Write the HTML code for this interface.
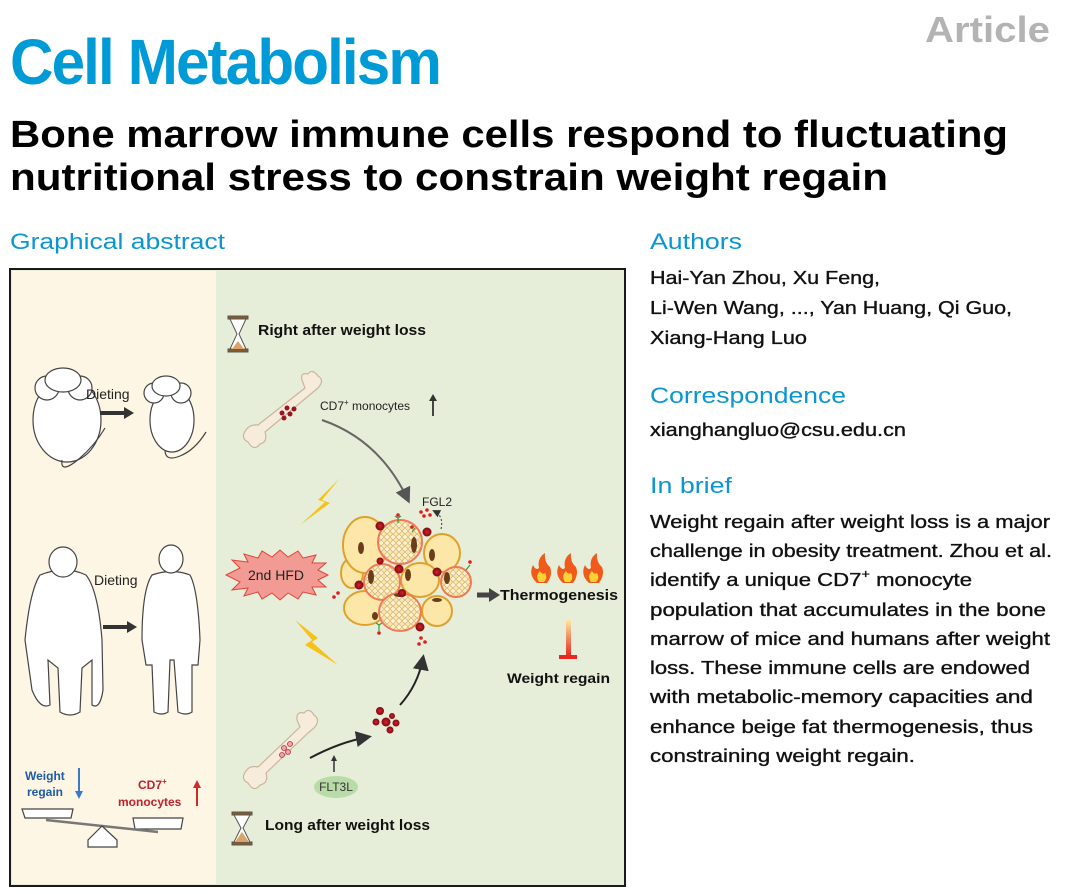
<!DOCTYPE html>
<html><head><meta charset="utf-8"><style>
html,body{margin:0;padding:0;background:#fff;}
svg{display:block;}
text{font-family:"Liberation Sans",Arial,sans-serif;}
</style></head><body>
<svg width="1080" height="894" viewBox="0 0 1080 894" xmlns="http://www.w3.org/2000/svg">
<defs>
<linearGradient id="inh" x1="0" y1="0" x2="0" y2="1"><stop offset="0" stop-color="#fde9a0"/><stop offset="1" stop-color="#e8281e"/></linearGradient>
<radialGradient id="mono"><stop offset="0" stop-color="#d8202a"/><stop offset="1" stop-color="#7a0a10"/></radialGradient>
<pattern id="lip" width="6" height="6" patternUnits="userSpaceOnUse"><rect width="6" height="6" fill="#fbe7b0"/><circle cx="3" cy="3" r="2.3" fill="#fdf3d2" stroke="#c9a25a" stroke-width="0.6"/></pattern>
<marker id="ah" markerWidth="8" markerHeight="8" refX="6" refY="4" orient="auto"><path d="M0,0 L8,4 L0,8 Z" fill="#333"/></marker>
<marker id="ahg" markerWidth="8" markerHeight="8" refX="6" refY="4" orient="auto"><path d="M0,0 L8,4 L0,8 Z" fill="#555"/></marker>
</defs>

<!-- header -->
<text x="10" y="84" font-size="64" font-weight="bold" fill="#009ad6" letter-spacing="-2" textLength="430" lengthAdjust="spacingAndGlyphs">Cell Metabolism</text>
<text x="925" y="42" font-size="36" font-weight="bold" fill="#b3b3b3" textLength="125" lengthAdjust="spacingAndGlyphs">Article</text>
<text x="10" y="147" font-size="38" font-weight="bold" fill="#000" textLength="998" lengthAdjust="spacingAndGlyphs">Bone marrow immune cells respond to fluctuating</text>
<text x="10" y="190" font-size="38" font-weight="bold" fill="#000" textLength="878" lengthAdjust="spacingAndGlyphs">nutritional stress to constrain weight regain</text>
<text x="10" y="249" font-size="22" fill="#0a96d2" textLength="215" lengthAdjust="spacingAndGlyphs">Graphical abstract</text>

<!-- right column -->
<text x="650" y="249" font-size="22" fill="#0a96d2" textLength="92" lengthAdjust="spacingAndGlyphs">Authors</text>
<g font-size="18" fill="#111" stroke="#111" stroke-width="0.35">
<text x="650" y="284" textLength="230" lengthAdjust="spacingAndGlyphs">Hai-Yan Zhou, Xu Feng,</text>
<text x="650" y="314" textLength="362" lengthAdjust="spacingAndGlyphs">Li-Wen Wang, ..., Yan Huang, Qi Guo,</text>
<text x="650" y="344" textLength="157" lengthAdjust="spacingAndGlyphs">Xiang-Hang Luo</text>
<text x="650" y="436" textLength="256" lengthAdjust="spacingAndGlyphs">xianghangluo@csu.edu.cn</text>
<text x="650" y="528" textLength="400" lengthAdjust="spacingAndGlyphs">Weight regain after weight loss is a major</text>
<text x="650" y="557" textLength="402" lengthAdjust="spacingAndGlyphs">challenge in obesity treatment. Zhou et al.</text>
<text x="650" y="586" textLength="322" lengthAdjust="spacingAndGlyphs">identify a unique CD7<tspan font-size="12" dy="-8">+</tspan><tspan dy="8"> monocyte</tspan></text>
<text x="650" y="616" textLength="396" lengthAdjust="spacingAndGlyphs">population that accumulates in the bone</text>
<text x="650" y="645" textLength="400" lengthAdjust="spacingAndGlyphs">marrow of mice and humans after weight</text>
<text x="650" y="674" textLength="380" lengthAdjust="spacingAndGlyphs">loss. These immune cells are endowed</text>
<text x="650" y="703" textLength="383" lengthAdjust="spacingAndGlyphs">with metabolic-memory capacities and</text>
<text x="650" y="733" textLength="383" lengthAdjust="spacingAndGlyphs">enhance beige fat thermogenesis, thus</text>
<text x="650" y="762" textLength="265" lengthAdjust="spacingAndGlyphs">constraining weight regain.</text>
</g>
<text x="650" y="403" font-size="22" fill="#0a96d2" textLength="196" lengthAdjust="spacingAndGlyphs">Correspondence</text>
<text x="650" y="493" font-size="22" fill="#0a96d2" textLength="82" lengthAdjust="spacingAndGlyphs">In brief</text>

<!-- diagram frame -->
<rect x="10" y="269" width="615" height="617" fill="#e6eed9" stroke="#1a1a1a" stroke-width="2"/>
<rect x="12" y="271" width="204" height="613" fill="#fdf6e4"/>

<!-- left: mice -->
<g fill="none" stroke="#444" stroke-width="1.2">
<ellipse cx="67" cy="420" rx="34" ry="42" fill="#fff"/>
<circle cx="47" cy="388" r="12" fill="#fff"/><circle cx="80" cy="388" r="12" fill="#fff"/>
<ellipse cx="63" cy="380" rx="18" ry="12" fill="#fff"/>
<path d="M62,460 Q60,475 80,458 Q95,445 105,428"/>
<ellipse cx="172" cy="420" rx="22" ry="32" fill="#fff"/>
<circle cx="154" cy="393" r="10" fill="#fff"/><circle cx="181" cy="393" r="10" fill="#fff"/>
<ellipse cx="166" cy="386" rx="14" ry="10" fill="#fff"/>
<path d="M165,450 Q165,462 180,456 Q195,450 206,432"/>
</g>
<text x="86" y="399" font-size="14" fill="#222">Dieting</text>
<path d="M100,413 L125,413" stroke="#333" stroke-width="4"/><path d="M124,407 L134,413 L124,419 Z" fill="#333"/>

<!-- left: humans -->
<g fill="#fff" stroke="#444" stroke-width="1.2">
<path d="M40,575 Q30,590 25,640 L32,690 Q40,710 50,705 L48,660 L58,668 L60,712 Q70,718 80,712 L82,668 L92,660 L92,705 Q100,710 103,690 L102,640 Q98,590 86,575 Q65,565 40,575 Z"/>
<ellipse cx="63" cy="562" rx="14" ry="15"/>
<path d="M152,575 Q142,590 142,640 L146,665 L152,665 L154,712 Q162,716 168,712 L170,660 L174,660 L178,712 Q186,716 192,712 L192,665 L198,665 L200,640 Q198,590 190,575 Q172,568 152,575 Z"/>
<ellipse cx="171" cy="559" rx="12" ry="14"/>
</g>
<text x="94" y="585" font-size="14" fill="#222">Dieting</text>
<path d="M103,627 L128,627" stroke="#333" stroke-width="4"/><path d="M127,621 L137,627 L127,633 Z" fill="#333"/>

<!-- left: balance -->
<text x="25" y="780" font-size="12" font-weight="bold" fill="#1f5aa6">Weight</text>
<text x="27" y="796" font-size="12" font-weight="bold" fill="#1f5aa6">regain</text>
<path d="M79,768 L79,793" stroke="#3a78c9" stroke-width="2"/><path d="M75,791 L79,799 L83,791 Z" fill="#3a78c9"/>
<text x="138" y="789" font-size="12" font-weight="bold" fill="#c0212a">CD7<tspan font-size="8" dy="-5">+</tspan></text>
<text x="118" y="806" font-size="12" font-weight="bold" fill="#c0212a">monocytes</text>
<path d="M197,806 L197,786" stroke="#d02a2a" stroke-width="2"/><path d="M193,788 L197,780 L201,788 Z" fill="#d02a2a"/>
<g fill="#fff" stroke="#444" stroke-width="1.2">
<path d="M22,809 L73,809 L71,818 L25,818 Z"/>
<path d="M133,818 L183,818 L181,829 L135,829 Z"/>
<path d="M46,820 L158,832" stroke-width="2.5" stroke="#777"/>
<path d="M102,826 L88,840 L88,847 L117,847 L117,840 Z"/>
</g>

<!-- hourglasses -->
<g stroke="#555" stroke-width="1">
<rect x="228" y="316" width="20" height="3" fill="#8a5a2b"/><rect x="228" y="349" width="20" height="3" fill="#8a5a2b"/>
<path d="M230,319 L246,319 L239,334 L246,349 L230,349 L237,334 Z" fill="#fff"/>
<path d="M232,349 L244,349 L238,341 Z" fill="#d9a36a" stroke="none"/>
<rect x="232" y="812" width="20" height="3" fill="#8a5a2b"/><rect x="232" y="842" width="20" height="3" fill="#8a5a2b"/>
<path d="M234,815 L250,815 L243,828 L250,842 L234,842 L241,828 Z" fill="#fff"/>
<path d="M235,842 L249,842 L242,832 Z" fill="#d9a36a" stroke="none"/>
</g>
<text x="258" y="335" font-size="15" font-weight="bold" fill="#111" textLength="168" lengthAdjust="spacingAndGlyphs">Right after weight loss</text>
<text x="265" y="830" font-size="15" font-weight="bold" fill="#111" textLength="165" lengthAdjust="spacingAndGlyphs">Long after weight loss</text>

<!-- bones -->
<g fill="#f7ecdb" stroke="#c9b59a" stroke-width="1.2">
<path d="M258,425 L305,388 L302,380 Q300,372 308,374 Q312,368 318,376 Q325,380 318,388 L312,393 L265,432 Q268,442 260,444 Q254,452 248,442 Q240,438 246,430 Q250,424 258,425 Z"/>
<path d="M258,767 L300,727 L297,720 Q296,711 304,713 Q309,707 314,715 Q321,720 314,728 L308,733 L266,773 Q269,783 260,785 Q254,793 248,783 Q240,779 246,771 Q250,765 258,767 Z"/>
</g>
<g fill="#9a1520"><circle cx="282" cy="413" r="2.5"/><circle cx="287" cy="408" r="2.5"/><circle cx="290" cy="414" r="2.5"/><circle cx="284" cy="418" r="2.5"/><circle cx="294" cy="409" r="2.5"/></g>
<g fill="#f2a3a8" stroke="#b0303a" stroke-width="0.8"><circle cx="284" cy="748" r="2.5"/><circle cx="290" cy="744" r="2.5"/><circle cx="288" cy="752" r="2.5"/><circle cx="282" cy="755" r="2.5"/></g>
<text x="320" y="410" font-size="12" fill="#222">CD7<tspan font-size="8" dy="-5">+</tspan><tspan dy="5"> monocytes</tspan></text>
<path d="M433,416 L433,400" stroke="#333" stroke-width="1.8"/><path d="M429,401 L433,394 L437,401 Z" fill="#333"/>

<!-- arrows -->
<path d="M322,420 Q380,440 408,500" fill="none" stroke="#666" stroke-width="2" marker-end="url(#ahg)"/>
<text x="422" y="506" font-size="12" fill="#222">FGL2</text>
<path d="M441,529 Q444,516 434,511" fill="none" stroke="#333" stroke-width="1" stroke-dasharray="2,2" marker-end="url(#ah)"/>
<g fill="#e01c1c"><circle cx="421" cy="512" r="1.8"/><circle cx="427" cy="510" r="1.8"/><circle cx="424" cy="516" r="1.8"/><circle cx="430" cy="515" r="1.8"/></g>
<path d="M310,758 Q340,742 368,737" fill="none" stroke="#222" stroke-width="2" marker-end="url(#ah)"/>
<path d="M334,772 L334,760" stroke="#333" stroke-width="1.5"/><path d="M331,761 L334,755 L337,761 Z" fill="#333"/>
<ellipse cx="336" cy="787" rx="22" ry="11" fill="#b9dba8"/>
<text x="336" y="791" font-size="12" fill="#333" text-anchor="middle">FLT3L</text>
<path d="M400,705 Q418,685 423,658" fill="none" stroke="#222" stroke-width="2" marker-end="url(#ah)"/>
<g fill="url(#mono)"><circle cx="380" cy="711" r="4"/><circle cx="376" cy="722" r="3.5"/><circle cx="386" cy="722" r="4.5"/><circle cx="392" cy="716" r="3"/><circle cx="396" cy="723" r="3.5"/><circle cx="390" cy="730" r="3.5"/></g>

<!-- lightning -->
<g fill="#f6c21a">
<path d="M340,478 L318,500 L325,502 L300,525 L330,503 L322,500 Z"/>
<path d="M295,620 L318,638 L312,642 L338,665 L305,645 L312,640 Z"/>
</g>

<!-- 2nd HFD star -->
<path d="M226,575 L240,568 L232,560 L248,562 L244,554 L258,558 L262,551 L272,557 L280,550 L288,557 L298,551 L303,558 L316,555 L312,563 L326,563 L318,570 L328,575 L318,580 L326,587 L312,587 L316,595 L303,592 L298,599 L288,593 L280,600 L272,593 L262,599 L258,592 L244,596 L248,588 L232,590 L240,582 Z" fill="#f29a94" stroke="#e0443a" stroke-width="1"/>
<text x="276" y="580" font-size="14" fill="#222" text-anchor="middle">2nd HFD</text>

<!-- adipocyte cluster -->
<g stroke-width="2">
<ellipse cx="352" cy="573" rx="11" ry="15" fill="#fde7a8" stroke="#e0a12c"/>
<ellipse cx="365" cy="545" rx="22" ry="28" fill="#fde7a8" stroke="#e0a12c"/>
<ellipse cx="442" cy="553" rx="18" ry="19" fill="#fde7a8" stroke="#e0a12c"/>
<ellipse cx="420" cy="580" rx="19" ry="17" fill="#fde7a8" stroke="#e0a12c"/>
<ellipse cx="365" cy="608" rx="21" ry="17" fill="#fde7a8" stroke="#e0a12c"/>
<ellipse cx="437" cy="611" rx="15" ry="15" fill="#fde7a8" stroke="#e0a12c"/>
<circle cx="400" cy="542" r="22" fill="url(#lip)" stroke="#f07a55"/>
<circle cx="382" cy="582" r="18" fill="url(#lip)" stroke="#f07a55"/>
<circle cx="456" cy="582" r="15" fill="url(#lip)" stroke="#f07a55"/>
<ellipse cx="400" cy="612" rx="21" ry="19" fill="url(#lip)" stroke="#f07a55"/>
</g>
<g fill="#6a3e1a">
<ellipse cx="361" cy="548" rx="3" ry="6"/><ellipse cx="414" cy="545" rx="3" ry="8"/><ellipse cx="432" cy="555" rx="3" ry="6"/>
<ellipse cx="371" cy="577" rx="3" ry="7"/><ellipse cx="408" cy="575" rx="3" ry="6"/><ellipse cx="447" cy="578" rx="3" ry="6"/>
<ellipse cx="375" cy="616" rx="3" ry="4"/><ellipse cx="400" cy="595" rx="6" ry="2"/><ellipse cx="437" cy="600" rx="5" ry="2"/>
</g>
<g fill="url(#mono)">
<circle cx="380" cy="526" r="4.5"/><circle cx="427" cy="532" r="4.5"/><circle cx="399" cy="569" r="4.5"/>
<circle cx="437" cy="572" r="4.5"/><circle cx="359" cy="585" r="4.5"/><circle cx="402" cy="593" r="4"/>
<circle cx="420" cy="627" r="4.5"/><circle cx="380" cy="561" r="3.5"/>
</g>
<g fill="#e01c1c"><circle cx="334" cy="597" r="1.8"/><circle cx="338" cy="593" r="1.8"/><circle cx="421" cy="638" r="1.8"/><circle cx="425" cy="642" r="1.8"/><circle cx="419" cy="644" r="1.8"/><circle cx="398" cy="515" r="1.8"/><circle cx="470" cy="562" r="1.8"/><circle cx="379" cy="633" r="1.8"/><circle cx="412" cy="527" r="1.8"/></g>
<g stroke="#3a9a3a" stroke-width="1.2" fill="none"><path d="M398,523 L398,518 M395,516 L398,518 L401,516"/><path d="M412,532 L415,528"/><path d="M466,570 L470,565"/><path d="M379,625 L379,631 M376,623 L379,625 L382,623"/></g>

<!-- thermogenesis -->
<path d="M477,595 L491,595" stroke="#444" stroke-width="5"/><path d="M489,588 L500,595 L489,602 Z" fill="#444"/>
<text x="500" y="600" font-size="15" font-weight="bold" fill="#111" textLength="118" lengthAdjust="spacingAndGlyphs">Thermogenesis</text>
<g>
<path d="M537,583 Q528,575 533,565 Q536,571 539,568 Q537,558 545,553 Q544,562 550,567 Q553,575 547,583 Z" fill="#f05a1a"/>
<path d="M539,582 Q535,576 540,571 Q542,575 545,573 Q548,578 544,582 Z" fill="#ffd23a"/>
<path d="M563,583 Q554,575 559,565 Q562,571 565,568 Q563,558 571,553 Q570,562 576,567 Q579,575 573,583 Z" fill="#f05a1a"/>
<path d="M565,582 Q561,576 566,571 Q568,575 571,573 Q574,578 570,582 Z" fill="#ffd23a"/>
<path d="M589,583 Q580,575 585,565 Q588,571 591,568 Q589,558 597,553 Q596,562 602,567 Q605,575 599,583 Z" fill="#f05a1a"/>
<path d="M591,582 Q587,576 592,571 Q594,575 597,573 Q600,578 596,582 Z" fill="#ffd23a"/>
</g>
<rect x="566" y="620" width="5" height="36" fill="url(#inh)"/>
<rect x="559" y="655" width="18" height="4" fill="#e8281e"/>
<text x="507" y="683" font-size="14" font-weight="bold" fill="#111" textLength="103" lengthAdjust="spacingAndGlyphs">Weight regain</text>
</svg>
</body></html>
